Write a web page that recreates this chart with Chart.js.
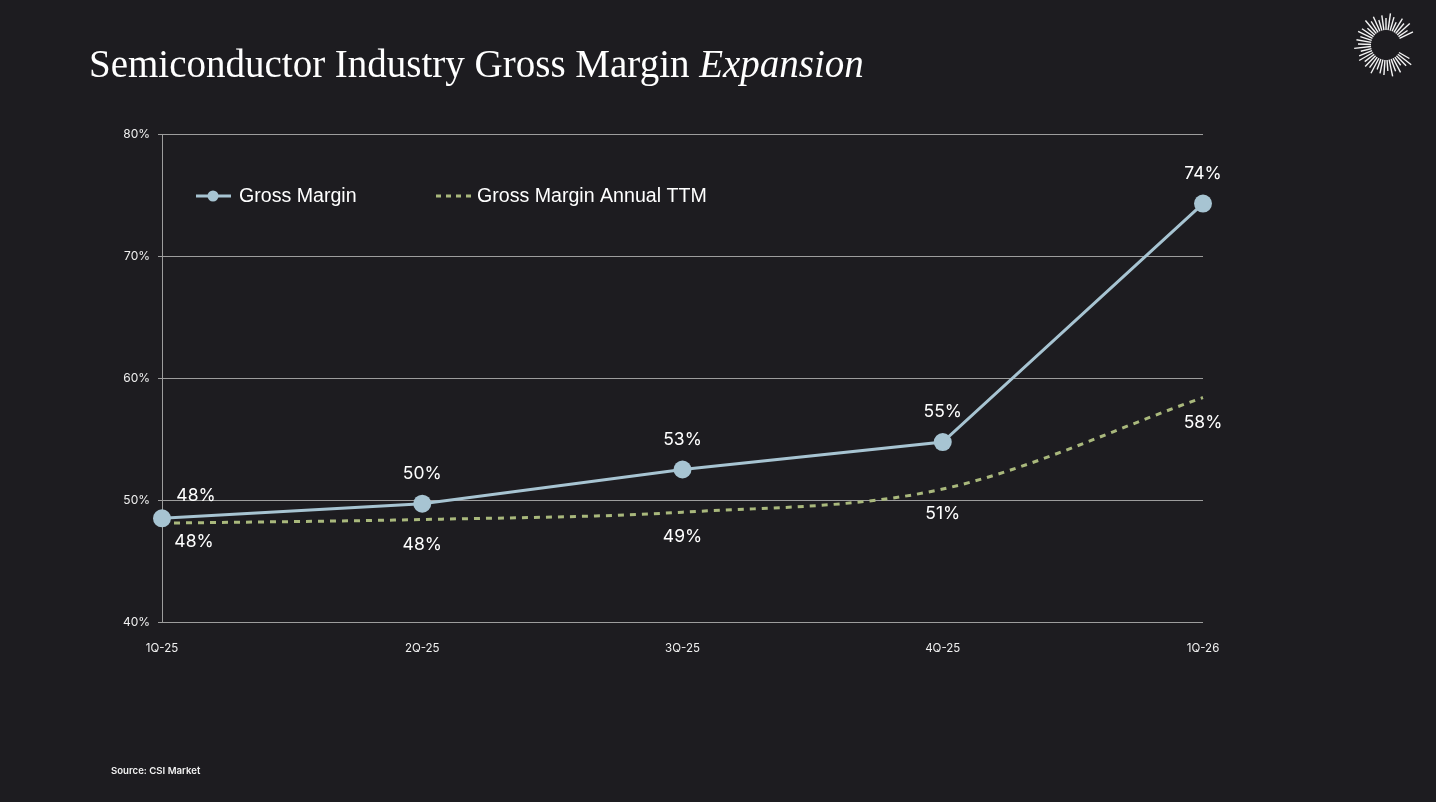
<!DOCTYPE html>
<html>
<head>
<meta charset="utf-8">
<script src="https://cdn.jsdelivr.net/npm/chart.js@4"></script>
<style>
  html, body { margin: 0; padding: 0; background: #1d1c20; }
  #page { position: relative; width: 1436px; height: 802px; background: #1d1c20; overflow: hidden; }
  #title { position: absolute; left: 89px; top: 44px; font-family: 'Liberation Serif', serif; font-size: 39px; color: #ffffff; white-space: nowrap; line-height: 1; }
  #title em { font-style: italic; }
  #source { position: absolute; left: 111px; top: 765px; font-family: Inter, sans-serif; font-size: 9.6px; font-weight: 600; color: #f2f2f2; }
  #logo { position: absolute; left: 1350px; top: 9px; }
  #wrap { position: absolute; left: 0; top: 0; width: 1436px; height: 802px; }
</style>
</head>
<body>
<div id="page">
  <div id="wrap"><canvas id="marginChart"></canvas></div>
  <div id="title">Semiconductor Industry Gross Margin <em>Expansion</em></div>
  <svg id="logo" width="72" height="72" viewBox="0 0 72 72"></svg>
  <div id="source">Source: CSI Market</div>
</div>
<script>
const quarters = ['1Q-25', '2Q-25', '3Q-25', '4Q-25', '1Q-26'];
const grossMargin = [48.5, 49.7, 52.5, 54.75, 74.3];
const grossMarginTTM = [48.1, 48.4, 49.0, 50.9, 58.4];
const grossMarginLabels = ['48%', '50%', '53%', '55%', '74%'];
const grossMarginTTMLabels = ['48%', '48%', '49%', '51%', '58%'];
const yTicks = [40, 50, 60, 70, 80];

const GM_COLOR = '#a7c4d2';
const TTM_COLOR = '#a9b87c';

// sunburst logo (decoration)
const logo = document.getElementById('logo');
const lens = [15, 11, 17, 13, 16, 10, 14, 17, 12, 15, 11, 16, 13, 17, 10, 14, 16, 12, 15, 13, 17, 11, 14, 16, 12, 15, 13, 17, 11, 14];
let k = 0;
for (let a = 26; a <= 334; a += 8) {
    const rad = a * Math.PI / 180;
    const r0 = 15, r1 = r0 + lens[k++ % lens.length];
    const line = document.createElementNS('http://www.w3.org/2000/svg', 'line');
    line.setAttribute('x1', 36 + r0 * Math.cos(rad));
    line.setAttribute('y1', 36 - r0 * Math.sin(rad));
    line.setAttribute('x2', 36 + r1 * Math.cos(rad));
    line.setAttribute('y2', 36 - r1 * Math.sin(rad));
    line.setAttribute('stroke', '#f4f4f4');
    line.setAttribute('stroke-width', '1.4');
    logo.appendChild(line);
}

// labels above / below points and the legend inside the plot area
const overlayPlugin = {
    id: 'overlay',
    afterDatasetsDraw(chart) {
        const c = chart.ctx;
        c.save();
        c.fillStyle = '#ffffff';
        c.font = "17.5px Inter, sans-serif";
        c.textAlign = 'center';
        c.textBaseline = 'middle';
        chart.getDatasetMeta(0).data.forEach((pt, i) => {
            const dx = i === 0 ? 34 : 0;
            const dy = i === 0 ? -23 : -30;
            c.fillText(grossMarginLabels[i], pt.x + dx, pt.y + dy);
        });
        chart.getDatasetMeta(1).data.forEach((pt, i) => {
            const dx = i === 0 ? 32 : 0;
            const dy = i === 0 ? 19 : 25;
            c.fillText(grossMarginTTMLabels[i], pt.x + dx, pt.y + dy);
        });

        // legend
        const ly = 196;
        c.lineWidth = 3;
        c.strokeStyle = GM_COLOR;
        c.beginPath(); c.moveTo(196, ly); c.lineTo(231, ly); c.stroke();
        c.fillStyle = GM_COLOR;
        c.beginPath(); c.arc(213, ly, 5.5, 0, Math.PI * 2); c.fill();
        c.strokeStyle = TTM_COLOR;
        c.setLineDash([5, 5]);
        c.beginPath(); c.moveTo(436, ly); c.lineTo(471, ly); c.stroke();
        c.setLineDash([]);
        c.fillStyle = '#ffffff';
        c.font = "19.6px 'Liberation Sans', sans-serif";
        c.textAlign = 'left';
        c.fillText('Gross Margin', 239, ly + 1);
        c.fillText('Gross Margin Annual TTM', 477, ly + 1);
        c.restore();
    }
};

const ctx = document.getElementById('marginChart').getContext('2d');
new Chart(ctx, {
    type: 'line',
    data: {
        labels: quarters,
        datasets: [{
            label: 'Gross Margin',
            data: grossMargin,
            borderColor: GM_COLOR,
            backgroundColor: GM_COLOR,
            borderWidth: 3,
            pointRadius: 9,
            pointBackgroundColor: GM_COLOR,
            pointBorderWidth: 0,
            tension: 0
        }, {
            label: 'Gross Margin Annual TTM',
            data: grossMarginTTM,
            borderColor: TTM_COLOR,
            borderWidth: 3,
            borderDash: [6, 6],
            pointRadius: 0,
            cubicInterpolationMode: 'monotone'
        }]
    },
    options: {
        responsive: true,
        maintainAspectRatio: false,
        animation: false,
        devicePixelRatio: 1,
        layout: { padding: { left: 100, right: 233, top: 134, bottom: 150 } },
        scales: {
            x: {
                grid: { display: false },
                border: { display: false },
                ticks: { color: '#f0f0f0', font: { family: 'Inter', size: 11.5 }, padding: 12, maxRotation: 0 },
                afterFit: (s) => { s.height = 30; }
            },
            y: {
                min: 40,
                max: 80,
                afterBuildTicks: (s) => { s.ticks = yTicks.map(v => ({ value: v })); },
                grid: { color: '#9d9d9d', lineWidth: 1, tickLength: 4, drawTicks: true },
                border: { display: true, color: '#9d9d9d', width: 1 },
                ticks: {
                    color: '#f0f0f0',
                    font: { family: 'Inter', size: 12 },
                    padding: 8,
                    callback: (v) => v + '%'
                },
                afterFit: (s) => { s.width = 62; }
            }
        },
        plugins: {
            legend: { display: false },
            tooltip: { enabled: false }
        }
    },
    plugins: [overlayPlugin]
});
</script>
</body>
</html>
